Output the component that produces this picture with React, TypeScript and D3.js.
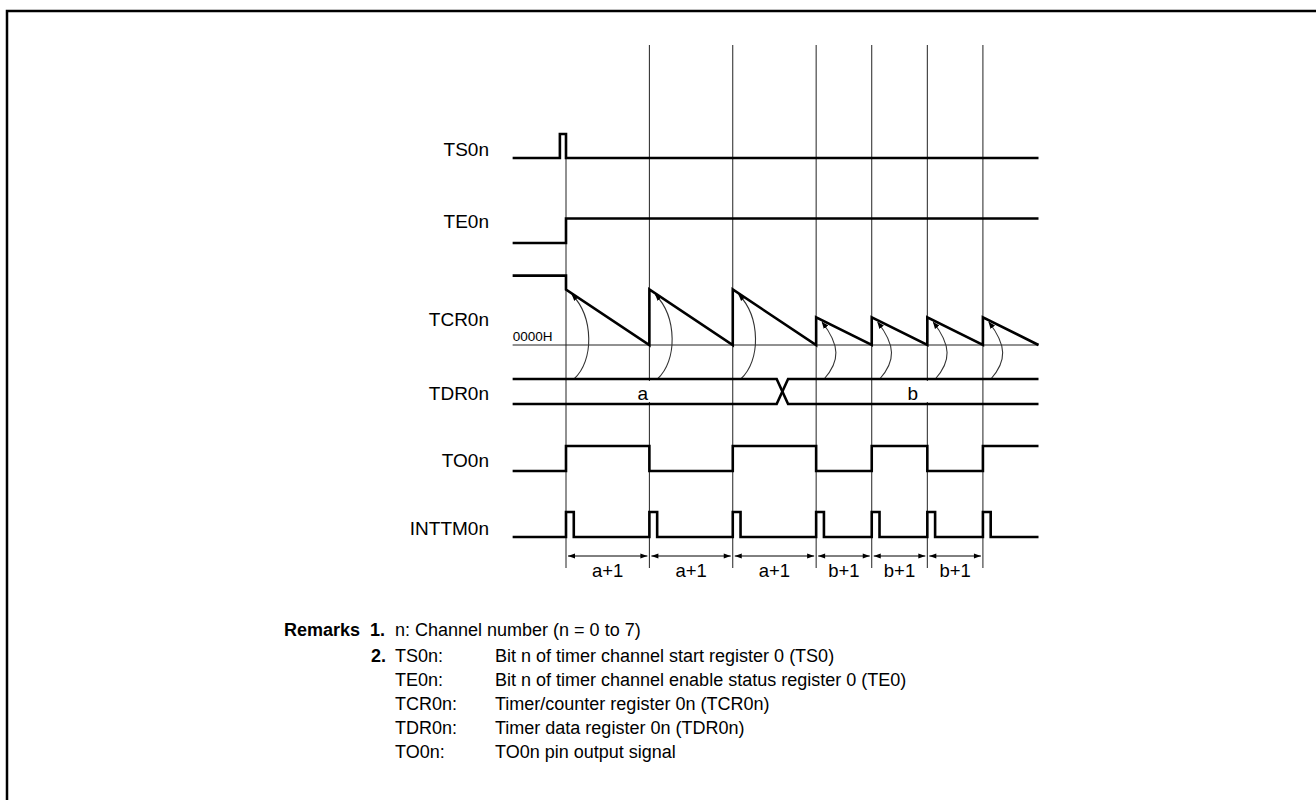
import React from "react";
import * as d3 from "d3";

// ---- data ----
const signalNames = ["TS0n", "TE0n", "TCR0n", "TDR0n", "TO0n", "INTTM0n"];
const loadTimes = [0, 3, 6, 9, 11, 13, 15]; // counter (re)load instants, in count clocks
const reloadValues = [100, 100, 100, 50, 50, 50, 50]; // a, a, a, b, b, b, b (relative)
const counterBefore = 125;
const startTime = -1.92;
const endTime = 17;
const tsPulse = [-0.22, 0];
const teRise = 0;
const toAfterLoad = [1, 0, 1, 0, 1, 0, 1];
const inttmWidth = 0.28;
const tdrChange = [7.58, 7.99];
const tdrLabels = ["a", "b"];
const tdrLabelTimes = [2.76, 12.48];
const periodLabels = ["a+1", "a+1", "a+1", "b+1", "b+1", "b+1"];
const remarkItems = ["TS0n:", "TE0n:", "TCR0n:", "TDR0n:", "TO0n:"];
const remarkTexts = [
  "Bit n of timer channel start register 0 (TS0)",
  "Bit n of timer channel enable status register 0 (TE0)",
  "Timer/counter register 0n (TCR0n)",
  "Timer data register 0n (TDR0n)",
  "TO0n pin output signal",
];

const FONT = "'Liberation Sans', Arial, Helvetica, sans-serif";

export default function App() {
  const x = d3.scaleLinear().domain([0, 17]).range([566, 1038.5]);
  const yTS = d3.scaleLinear().domain([0, 1]).range([158, 134]);
  const yTE = d3.scaleLinear().domain([0, 1]).range([243, 218.5]);
  const yTCR = d3.scaleLinear().domain([0, 100]).range([345, 289.5]);
  const yTDR = [379, 404];
  const yTO = d3.scaleLinear().domain([0, 1]).range([471, 446]);
  const yINT = d3.scaleLinear().domain([0, 1]).range([537, 512]);
  const labelBase = [156, 228, 326, 400, 467, 535];
  const line = d3.line<[number, number]>();

  const tsPts: [number, number][] = [
    [x(startTime), yTS(0)], [x(tsPulse[0]), yTS(0)], [x(tsPulse[0]), yTS(1)],
    [x(tsPulse[1]), yTS(1)], [x(tsPulse[1]), yTS(0)], [x(endTime), yTS(0)],
  ];
  const tePts: [number, number][] = [
    [x(startTime), yTE(0)], [x(teRise), yTE(0)], [x(teRise), yTE(1)], [x(endTime), yTE(1)],
  ];
  const tcrPts: [number, number][] = [[x(startTime), yTCR(counterBefore)], [x(loadTimes[0]), yTCR(counterBefore)]];
  loadTimes.forEach((t, i) => {
    const next = i < loadTimes.length - 1 ? loadTimes[i + 1] : endTime;
    tcrPts.push([x(t), yTCR(reloadValues[i])]);
    tcrPts.push([x(next), yTCR(0)]);
  });
  const toPts: [number, number][] = [[x(startTime), yTO(0)]];
  let lvl = 0;
  loadTimes.forEach((t, i) => {
    toPts.push([x(t), yTO(lvl)]);
    lvl = toAfterLoad[i];
    toPts.push([x(t), yTO(lvl)]);
  });
  toPts.push([x(endTime), yTO(lvl)]);
  const intPts: [number, number][] = [[x(startTime), yINT(0)]];
  loadTimes.forEach((t) => {
    intPts.push([x(t), yINT(0)], [x(t), yINT(1)], [x(t + inttmWidth), yINT(1)], [x(t + inttmWidth), yINT(0)]);
  });
  intPts.push([x(endTime), yINT(0)]);
  const tdrA: [number, number][] = [
    [x(startTime), yTDR[0]], [x(tdrChange[0]), yTDR[0]], [x(tdrChange[1]), yTDR[1]], [x(endTime), yTDR[1]],
  ];
  const tdrB: [number, number][] = [
    [x(startTime), yTDR[1]], [x(tdrChange[0]), yTDR[1]], [x(tdrChange[1]), yTDR[0]], [x(endTime), yTDR[0]],
  ];

  const thick = { fill: "none", stroke: "#000", strokeWidth: 2.6, strokeLinejoin: "miter" as const };

  return (
    <svg width={1316} height={800} style={{ position: "absolute", left: 0, top: 0, background: "#fff" }} fontFamily={FONT}>
      <defs>
        <marker id="arcHead" viewBox="0 0 10 10" refX="9" refY="5" markerWidth="7" markerHeight="7" markerUnits="userSpaceOnUse" orient="auto">
          <path d="M0,1 L10,5 L0,9 Z" fill="#000" />
        </marker>
        <marker id="dimHead" viewBox="0 0 10 10" refX="10" refY="5" markerWidth="9" markerHeight="7" markerUnits="userSpaceOnUse" orient="auto-start-reverse">
          <path d="M0,1.5 L10,5 L0,8.5 Z" fill="#000" />
        </marker>
      </defs>
      {/* frame */}
      <path d="M7,800 L7,11 L1316,11" fill="none" stroke="#000" strokeWidth={2.5} />

      {/* guide lines */}
      {loadTimes.map((t, i) => (
        <line key={"g" + i} x1={x(t)} x2={x(t)} y1={i === 0 ? yTS(0) : 45} y2={568} stroke="#222" strokeWidth={1} />
      ))}
      {/* 0000H baseline */}
      <line x1={x(startTime)} x2={x(endTime)} y1={yTCR(0)} y2={yTCR(0)} stroke="#222" strokeWidth={1} />
      <text x={x(startTime)} y={yTCR(0) - 4} fontSize={13.5} fill="#000">0000H</text>

      {/* white boxes behind TDR labels */}
      {tdrLabelTimes.map((t, i) => (
        <rect key={"wb" + i} x={x(t) - 12} y={yTDR[0] + 2} width={30} height={yTDR[1] - yTDR[0] - 4} fill="#fff" />
      ))}

      {/* arcs from TDR to TCR */}
      {loadTimes.map((t, i) => {
        const x0 = x(t);
        const yp = yTCR(reloadValues[i]);
        const big = reloadValues[i] > 60;
        const bulge = big ? 28 : 24;
        const d = `M${x0 + 8},${yTDR[0]} C${x0 + bulge},${yTDR[0] - 18} ${x0 + bulge},${yp + 28} ${x0 + 6},${yp + 5}`;
        return <path key={"arc" + i} d={d} fill="none" stroke="#333" strokeWidth={1.1} markerEnd="url(#arcHead)" />;
      })}

      {/* signals */}
      <path d={line(tsPts) || ""} {...thick} />
      <path d={line(tePts) || ""} {...thick} />
      <path d={line(tcrPts) || ""} {...thick} />
      <path d={line(tdrA) || ""} {...thick} />
      <path d={line(tdrB) || ""} {...thick} />
      <path d={line(toPts) || ""} {...thick} />
      <path d={line(intPts) || ""} {...thick} />

      {tdrLabels.map((s, i) => (
        <text key={"tl" + i} x={x(tdrLabelTimes[i])} y={400} fontSize={19} textAnchor="middle">{s}</text>
      ))}

      {/* signal names */}
      {signalNames.map((s, i) => (
        <text key={"sn" + i} x={489} y={labelBase[i]} fontSize={19} textAnchor="end">{s}</text>
      ))}

      {/* period dimension arrows */}
      {periodLabels.map((s, i) => {
        const x1 = x(loadTimes[i]);
        const x2 = x(loadTimes[i + 1]);
        return (
          <g key={"p" + i}>
            <line x1={x1 + 2} x2={x2 - 2} y1={556} y2={556} stroke="#000" strokeWidth={1} markerStart="url(#dimHead)" markerEnd="url(#dimHead)" />
            <text x={(x1 + x2) / 2} y={577} fontSize={18.5} textAnchor="middle">{s}</text>
          </g>
        );
      })}

      {/* remarks */}
      <text x={284} y={636} fontSize={18} fontWeight="bold">Remarks</text>
      <text x={370} y={636} fontSize={18} fontWeight="bold">1.</text>
      <text x={395} y={636} fontSize={18}>n: Channel number (n = 0 to 7)</text>
      <text x={371} y={662} fontSize={18} fontWeight="bold">2.</text>
      {remarkItems.map((s, i) => (
        <g key={"r" + i}>
          <text x={395} y={662 + i * 24} fontSize={18}>{s}</text>
          <text x={495} y={662 + i * 24} fontSize={18}>{remarkTexts[i]}</text>
        </g>
      ))}
    </svg>
  );
}
